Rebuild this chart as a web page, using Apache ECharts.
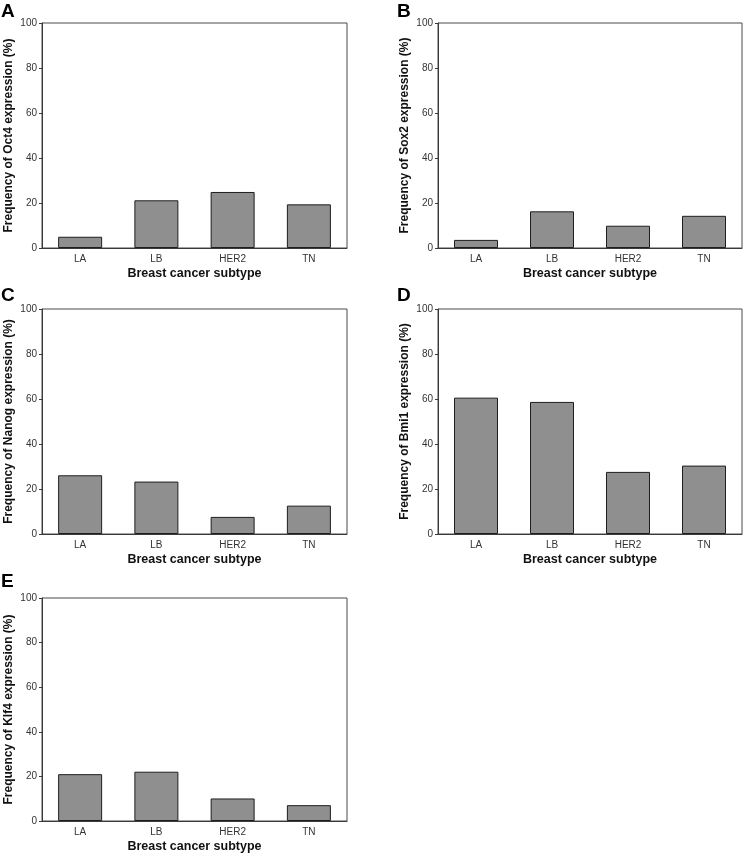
<!DOCTYPE html>
<html>
<head>
<meta charset="utf-8">
<script src="https://cdn.jsdelivr.net/npm/echarts@6/dist/echarts.min.js"></script>
<style>
html,body{margin:0;padding:0;background:#fff;}
#chart{width:745px;height:854px;}
</style>
</head>
<body>
<div id="chart"></div>
<script>
const categories = ['LA', 'LB', 'HER2', 'TN'];
const oct4 = [5.0, 21.2, 24.9, 19.4];
const sox2 = [3.6, 16.3, 9.9, 14.3];
const nanog = [26.1, 23.3, 7.6, 12.6];
const bmi1 = [60.6, 58.7, 27.6, 30.4];
const klf4 = [21.0, 22.1, 10.1, 7.1];
const yTicks = [0, 20, 40, 60, 80, 100];
const panelLetters = ['A', 'B', 'C', 'D', 'E'];
const yTitles = [
  'Frequency of Oct4 expression (%)',
  'Frequency of Sox2 expression (%)',
  'Frequency of Nanog expression (%)',
  'Frequency of Bmi1 expression (%)',
  'Frequency of Klf4 expression (%)'
];
const xTitle = 'Breast cancer subtype';
const seriesData = [oct4, sox2, nanog, bmi1, klf4];

const FONT = '"Liberation Sans", Arial, sans-serif';
const layouts = [
  {left: 42, top: 23, width: 305, height: 225, lx: 1, ly: 2},
  {left: 438, top: 23, width: 304, height: 225, lx: 397, ly: 2},
  {left: 42, top: 309, width: 305, height: 225, lx: 1, ly: 286},
  {left: 438, top: 309, width: 304, height: 225, lx: 397, ly: 286},
  {left: 42, top: 598, width: 305, height: 225, lx: 1, ly: 572}
];

const grids = [], xAxes = [], yAxes = [], series = [], graphics = [];
layouts.forEach((L, i) => {
  grids.push({left: L.left, top: L.top, width: L.width, height: L.height,
    show: true, borderColor: '#4a4a4a', borderWidth: 1, backgroundColor: 'transparent'});
  xAxes.push({
    type: 'category', gridIndex: i, data: categories,
    axisLine: {lineStyle: {color: '#3a3a3a', width: 1}},
    axisTick: {alignWithLabel: true, length: 3, lineStyle: {color: '#3a3a3a'}},
    axisLabel: {color: '#333', fontSize: 10, fontFamily: FONT, margin: 6},
    name: xTitle, nameLocation: 'middle', nameGap: 19,
    nameTextStyle: {color: '#111', fontSize: 12.5, fontWeight: 'bold', fontFamily: FONT}
  });
  yAxes.push({
    type: 'value', gridIndex: i, min: 0, max: 100, interval: 20,
    axisLine: {show: true, lineStyle: {color: '#3a3a3a', width: 1}},
    axisTick: {show: true, length: 3, lineStyle: {color: '#3a3a3a'}},
    splitLine: {show: false},
    axisLabel: {color: '#333', fontSize: 10, fontFamily: FONT, margin: 5,
      formatter: v => yTicks.includes(v) ? String(v) : ''},
    name: yTitles[i], nameLocation: 'middle', nameGap: 27,
    nameTextStyle: {color: '#111', fontSize: 12, fontWeight: 'bold', fontFamily: FONT}
  });
  series.push({
    type: 'bar', xAxisIndex: i, yAxisIndex: i, data: seriesData[i],
    barWidth: 44,
    itemStyle: {color: '#8f8f8f', borderColor: '#1e1e1e', borderWidth: 1}
  });
  graphics.push({
    type: 'text', left: L.lx, top: L.ly,
    style: {text: panelLetters[i], font: 'bold 19px ' + FONT, fill: '#000'}
  });
});

const chart = echarts.init(document.getElementById('chart'), null, {renderer: 'canvas'});
chart.setOption({
  animation: false,
  backgroundColor: '#fff',
  grid: grids, xAxis: xAxes, yAxis: yAxes, series: series,
  graphic: graphics
});
</script>
</body>
</html>
